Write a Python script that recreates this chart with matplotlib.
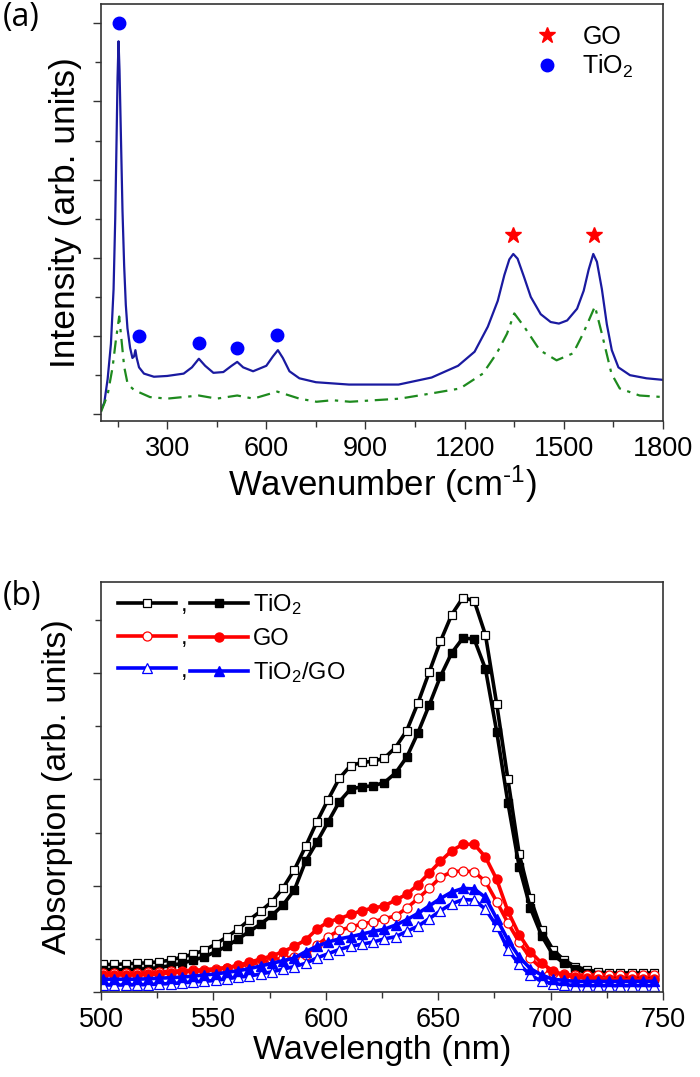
import numpy as np
import matplotlib
matplotlib.use("Agg")
import matplotlib.pyplot as plt
from matplotlib import font_manager
from matplotlib.ticker import MultipleLocator

# fonts: condensed look for axes text, regular for legends
names = {f.name for f in font_manager.fontManager.ttflist}
NARROW = 'Liberation Sans Narrow' if 'Liberation Sans Narrow' in names else 'Liberation Sans'
plt.rcParams['font.family'] = ['Liberation Sans', 'DejaVu Sans']
plt.rcParams['mathtext.fontset'] = 'custom'
plt.rcParams['mathtext.rm'] = 'Liberation Sans'
plt.rcParams['mathtext.default'] = 'rm'

# ---- (a) Raman spectra ----
raman_wn = [100, 110, 120, 130, 138, 143, 147, 150, 153, 156, 160, 165, 170, 175, 180, 188,
            195, 200, 204, 208, 215, 230, 260, 300, 350, 375, 396, 415, 440, 470, 495, 512,
            530, 560, 600, 620, 635, 650, 670, 700, 750, 850, 1000, 1100, 1180, 1230, 1270,
            1300, 1320, 1335, 1347, 1360, 1380, 1400, 1430, 1460, 1485, 1510, 1540, 1560,
            1575, 1589, 1600, 1615, 1630, 1645, 1665, 1700, 1750, 1800]
raman_composite = [0.05, 0.15, 0.45, 0.9, 1.6, 2.5, 3.5, 4.3, 4.77, 4.4, 3.6, 2.6, 1.9, 1.4, 1.1, 0.85,
                   0.72, 0.74, 0.82, 0.72, 0.6, 0.52, 0.48, 0.49, 0.52, 0.6, 0.71, 0.62, 0.53, 0.54, 0.62, 0.67,
                   0.6, 0.55, 0.62, 0.74, 0.82, 0.72, 0.55, 0.46, 0.41, 0.38, 0.38, 0.47, 0.62, 0.8, 1.12,
                   1.45, 1.78, 1.98, 2.05, 1.99, 1.75, 1.5, 1.28, 1.18, 1.16, 1.2, 1.35, 1.58,
                   1.85, 2.05, 1.95, 1.6, 1.15, 0.82, 0.6, 0.5, 0.46, 0.44]

raman_wn2 = [100, 120, 135, 145, 155, 162, 170, 180, 190, 200, 248, 300, 396, 450, 512, 561,
             633, 700, 752, 800, 853, 1004, 1104, 1186, 1255, 1297, 1328, 1350, 1380, 1427,
             1478, 1528, 1558, 1594, 1615, 1644, 1669, 1729, 1800]
raman_go = [0.03, 0.25, 0.6, 0.95, 1.25, 0.95, 0.61, 0.40, 0.35, 0.31, 0.22, 0.20, 0.24, 0.20, 0.24, 0.20,
            0.29, 0.20, 0.16, 0.18, 0.16, 0.20, 0.27, 0.33, 0.52, 0.78, 1.03, 1.29, 1.12, 0.82,
            0.69, 0.78, 1.03, 1.38, 1.03, 0.52, 0.33, 0.24, 0.22]

tio2_peak_wn = [153, 216, 396, 512, 633]
tio2_peak_y = [5.01, 1.00, 0.91, 0.85, 1.02]
go_peak_wn = [1347, 1591]
go_peak_y = [2.29, 2.29]

# ---- (b) absorption spectra ----
wavelength = np.arange(501, 750, 5)
tio2_open = [0.26, 0.26, 0.265, 0.27, 0.275, 0.285, 0.30, 0.33, 0.355, 0.395,
             0.45, 0.52, 0.59, 0.68, 0.76, 0.85, 0.98, 1.15, 1.37, 1.60,
             1.81, 2.01, 2.13, 2.16, 2.17, 2.20, 2.30, 2.46, 2.72, 3.01,
             3.30, 3.55, 3.71, 3.68, 3.36, 2.71, 2.00, 1.30, 0.88, 0.58,
             0.40, 0.30, 0.24, 0.21, 0.19, 0.18, 0.18, 0.18, 0.18, 0.18]
tio2_fill = [0.21, 0.21, 0.21, 0.215, 0.22, 0.23, 0.25, 0.27, 0.30, 0.33,
             0.38, 0.43, 0.50, 0.57, 0.64, 0.72, 0.82, 0.96, 1.23, 1.41,
             1.60, 1.79, 1.91, 1.93, 1.94, 1.97, 2.06, 2.21, 2.44, 2.70,
             2.97, 3.19, 3.33, 3.32, 3.04, 2.45, 1.78, 1.18, 0.79, 0.53,
             0.35, 0.27, 0.22, 0.18, 0.16, 0.15, 0.14, 0.14, 0.13, 0.13]
go_open = [0.18, 0.18, 0.18, 0.18, 0.185, 0.19, 0.195, 0.20, 0.205, 0.21,
           0.22, 0.23, 0.245, 0.26, 0.28, 0.30, 0.32, 0.33, 0.35, 0.44,
           0.52, 0.58, 0.61, 0.64, 0.66, 0.69, 0.715, 0.79, 0.88, 0.975,
           1.08, 1.13, 1.14, 1.13, 1.04, 0.85, 0.65, 0.47, 0.32, 0.22,
           0.18, 0.165, 0.16, 0.16, 0.16, 0.16, 0.16, 0.16, 0.16, 0.16]
go_fill = [0.16, 0.16, 0.16, 0.16, 0.165, 0.17, 0.18, 0.19, 0.195, 0.20,
           0.21, 0.23, 0.25, 0.28, 0.31, 0.34, 0.38, 0.43, 0.49, 0.59,
           0.66, 0.69, 0.73, 0.765, 0.79, 0.81, 0.865, 0.92, 1.01, 1.12,
           1.23, 1.33, 1.39, 1.39, 1.27, 1.06, 0.76, 0.54, 0.38, 0.27,
           0.20, 0.16, 0.14, 0.13, 0.12, 0.12, 0.12, 0.12, 0.12, 0.12]
comp_open = [0.066, 0.066, 0.066, 0.068, 0.07, 0.075, 0.08, 0.085, 0.095, 0.10,
             0.11, 0.125, 0.14, 0.15, 0.17, 0.19, 0.215, 0.24, 0.27, 0.32,
             0.36, 0.40, 0.43, 0.45, 0.47, 0.50, 0.52, 0.57, 0.62, 0.69,
             0.765, 0.83, 0.87, 0.865, 0.78, 0.62, 0.40, 0.26, 0.16, 0.10,
             0.08, 0.07, 0.06, 0.06, 0.06, 0.06, 0.06, 0.06, 0.06, 0.06]
comp_fill = [0.12, 0.12, 0.12, 0.12, 0.125, 0.13, 0.135, 0.14, 0.15, 0.16,
             0.17, 0.185, 0.20, 0.22, 0.245, 0.27, 0.295, 0.32, 0.38, 0.43,
             0.47, 0.50, 0.52, 0.545, 0.57, 0.59, 0.63, 0.68, 0.74, 0.81,
             0.88, 0.94, 0.975, 0.97, 0.89, 0.69, 0.49, 0.33, 0.22, 0.16,
             0.12, 0.11, 0.10, 0.10, 0.10, 0.10, 0.10, 0.10, 0.10, 0.10]

fig = plt.figure(figsize=(7, 10.77), dpi=100)
ax1 = fig.add_axes([0.1443, 0.6091, 0.8029, 0.3872])
ax2 = fig.add_axes([0.1443, 0.0789, 0.8029, 0.3807])

TICK_FS = 19.5
SPINE = '#333333'

def style_axes(ax):
    for s in ax.spines.values():
        s.set_color(SPINE)
        s.set_linewidth(1.2)
    ax.tick_params(which='both', direction='out', top=False, right=False, color=SPINE, width=1.0)
    ax.tick_params(which='major', length=6, pad=5)
    ax.tick_params(which='minor', length=4)
    ax.tick_params(axis='y', labelleft=False)
    for lab in ax.get_xticklabels():
        lab.set_fontfamily(NARROW)
        lab.set_fontsize(TICK_FS)

# (a)
ax1.plot(raman_wn, raman_composite, color='#1a1aa0', lw=1.6)
ax1.plot(raman_wn2, raman_go, color='#1e8a1e', lw=1.6, ls=(0, (6, 3, 1.5, 3)))
ax1.plot(go_peak_wn, go_peak_y, ls='none', marker='*', ms=12, color='#ff0000', label='GO')
ax1.plot(tio2_peak_wn, tio2_peak_y, ls='none', marker='o', ms=9, color='#0000ff', label='TiO$_2$')
ax1.set_xlim(100, 1800)
ax1.set_ylim(-0.086, 5.247)
ax1.xaxis.set_major_locator(MultipleLocator(300))
ax1.xaxis.set_minor_locator(MultipleLocator(150))
ax1.yaxis.set_major_locator(MultipleLocator(1))
ax1.yaxis.set_minor_locator(MultipleLocator(0.5))
ax1.set_xticks([300, 600, 900, 1200, 1500, 1800])
style_axes(ax1)
ax1.set_xlabel('Wavenumber (cm$^{\\text{-}1}$)', fontsize=25, fontfamily=NARROW, labelpad=1)
ax1.set_ylabel('Intensity (arb. units)', fontsize=25.5, fontfamily=NARROW)
ax1.yaxis.set_label_coords(-0.034, 0.5)
ax1.legend(loc='upper left', bbox_to_anchor=(0.772, 0.95), frameon=False, fontsize=18,
           handlelength=1.0, handletextpad=0.9, borderpad=0, borderaxespad=0, labelspacing=0.15)

# (b)
ax2.plot(wavelength, tio2_open, color='black', lw=2.6, marker='s', ms=5.5, mfc='white', mec='black', mew=0.9)
ax2.plot(wavelength, tio2_fill, color='black', lw=2.6, marker='s', ms=5.5)
ax2.plot(wavelength, go_open, color='#ff0000', lw=2.6, marker='o', ms=6.5, mfc='white', mec='#ff0000', mew=0.9)
ax2.plot(wavelength, go_fill, color='#ff0000', lw=2.6, marker='o', ms=6.5)
ax2.plot(wavelength, comp_open, color='#0000ff', lw=2.6, marker='^', ms=6.5, mfc='white', mec='#0000ff', mew=0.9)
ax2.plot(wavelength, comp_fill, color='#0000ff', lw=2.6, marker='^', ms=6.5)
ax2.set_xlim(500, 750)
ax2.set_ylim(0, 3.857)
ax2.xaxis.set_major_locator(MultipleLocator(50))
ax2.xaxis.set_minor_locator(MultipleLocator(25))
ax2.yaxis.set_major_locator(MultipleLocator(1))
ax2.yaxis.set_minor_locator(MultipleLocator(0.5))
style_axes(ax2)
ax2.set_xlabel('Wavelength (nm)', fontsize=24.5, fontfamily=NARROW, labelpad=1)
ax2.set_ylabel('Absorption (arb. units)', fontsize=24.5, fontfamily=NARROW)
ax2.yaxis.set_label_coords(-0.05, 0.5)

lines = ax2.get_lines()
handles = [lines[0], lines[2], lines[4], lines[1], lines[3], lines[5]]
labels = [',', ',', ',', 'TiO$_2$', 'GO', 'TiO$_2$/GO']
ax2.legend(handles, labels, ncol=2, loc='upper left', bbox_to_anchor=(0.03, 0.975), frameon=False,
           fontsize=17, handlelength=2.45, handletextpad=0.2, columnspacing=0.15,
           borderpad=0, borderaxespad=0, labelspacing=0.45)

fig.text(0.004, 0.984, '(a)', fontsize=23, family=['Open Sans', 'DejaVu Sans'], va='center', ha='left')
fig.text(0.004, 0.446, '(b)', fontsize=23, family=['Open Sans', 'DejaVu Sans'], va='center', ha='left')

fig.savefig('out.png', dpi=100)
